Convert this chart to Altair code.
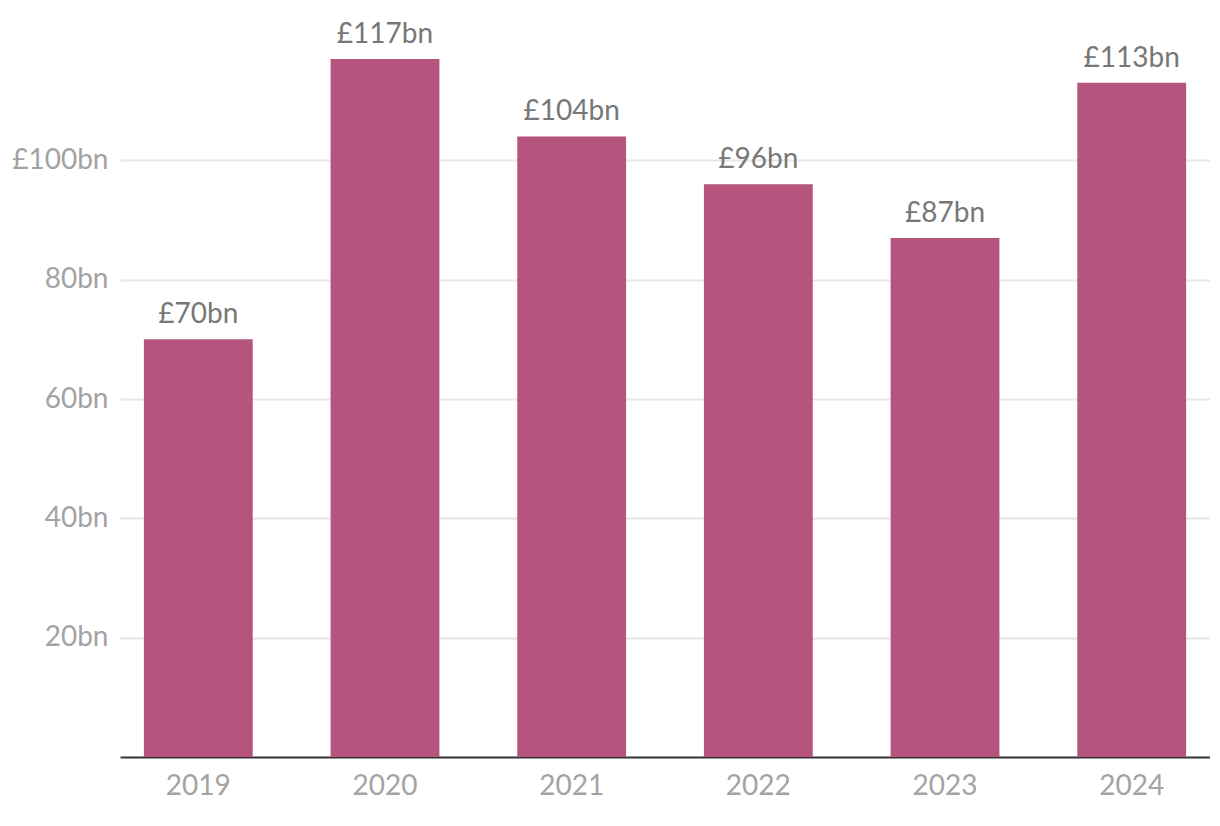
import altair as alt
import pandas as pd

years = ["2019", "2020", "2021", "2022", "2023", "2024"]
values = [70, 117, 104, 96, 87, 113]
labels = ["£70bn", "£117bn", "£104bn", "£96bn", "£87bn", "£113bn"]
y_ticks = [20, 40, 60, 80, 100]

df = pd.DataFrame({"year": years, "value": values, "label": labels})

FONT = "Lato"

x = alt.X("year:N", title=None, sort=years,
          scale=alt.Scale(paddingInner=0.417, paddingOuter=0.128),
          axis=alt.Axis(labelAngle=0, labelFontSize=28, labelColor="#a3a3a3",
                        labelFont=FONT, labelPadding=15, ticks=False,
                        domainColor="#333333", domainWidth=2, grid=False))
y = alt.Y("value:Q", title=None,
          scale=alt.Scale(domain=[0, 120], nice=False),
          axis=alt.Axis(values=y_ticks, labelFontSize=28, labelColor="#a3a3a3",
                        labelFont=FONT, labelPadding=12, ticks=False, domain=False,
                        gridColor="#e6e6e6", gridWidth=2,
                        labelExpr="datum.value == 100 ? '£100bn' : datum.value + 'bn'"))

bars = alt.Chart(df).mark_bar(color="#b5557e").encode(x=x, y=y)
text = alt.Chart(df).mark_text(baseline="alphabetic", dy=-16, fontSize=28,
                               color="#777777", font=FONT).encode(
    x=alt.X("year:N", sort=years), y="value:Q", text="label:N")

chart = (bars + text).properties(
    width=1090, height=716,
    background="white",
    autosize=alt.AutoSizeParams(type="none"),
    padding={"left": 112, "top": 33, "right": 0, "bottom": 50},
).configure_view(strokeWidth=0, stroke="transparent")

chart.save("out.html", embed_options={"renderer": "svg", "actions": False})
